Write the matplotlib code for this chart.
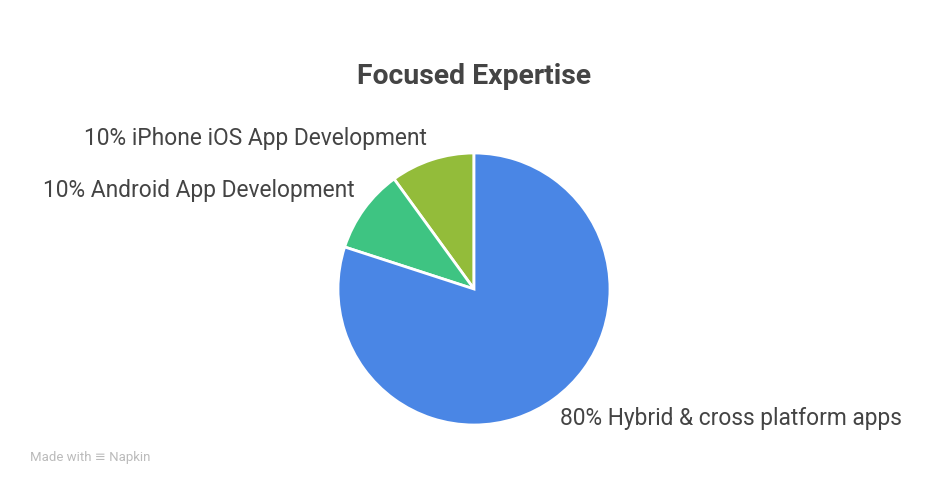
import matplotlib
matplotlib.use("Agg")
import matplotlib.pyplot as plt

categories = ["Hybrid & cross platform apps", "Android App Development", "iPhone iOS App Development"]
values = [80, 10, 10]
colors = ["#4A86E5", "#3EC482", "#93BC3A"]
title = "Focused Expertise"

W, H = 944, 492
fig = plt.figure(figsize=(W / 100, H / 100), dpi=100)
fig.patch.set_facecolor("white")

cx, cy, r = 474, 289, 136
ax = fig.add_axes([(cx - r) / W, (H - cy - r) / H, 2 * r / W, 2 * r / H])

# draw order: counterclockwise starting at top: iPhone, Android, Hybrid
order = [2, 1, 0]
ax.pie([values[i] for i in order], colors=[colors[i] for i in order],
       startangle=90, counterclock=True, radius=1,
       wedgeprops=dict(edgecolor="white", linewidth=2))
ax.set_xlim(-1, 1)
ax.set_ylim(-1, 1)
ax.set_aspect("equal")
ax.axis("off")

font = ["Roboto", "DejaVu Sans"]
txtcol = "#444444"
fig.text(cx / W, 1 - 77 / H, title, ha="center", va="center", fontsize=20.4,
         fontweight="bold", color=txtcol, family=font)

lab = lambda i: f"{values[i]}% {categories[i]}"
fs = 16.4
fig.text(427 / W, 1 - 138 / H, lab(2), ha="right", va="center", fontsize=fs, color=txtcol, family=font)
fig.text(355 / W, 1 - 190 / H, lab(1), ha="right", va="center", fontsize=fs, color=txtcol, family=font)
fig.text(560 / W, 1 - 418 / H, lab(0), ha="left", va="center", fontsize=fs, color=txtcol, family=font)

fig.text(30 / W, 1 - 458 / H, "Made with \u2261 Napkin", ha="left", va="center", fontsize=9.5,
         color="#BBBBBB", family=font)

fig.savefig("out.png", dpi=100, facecolor="white")
